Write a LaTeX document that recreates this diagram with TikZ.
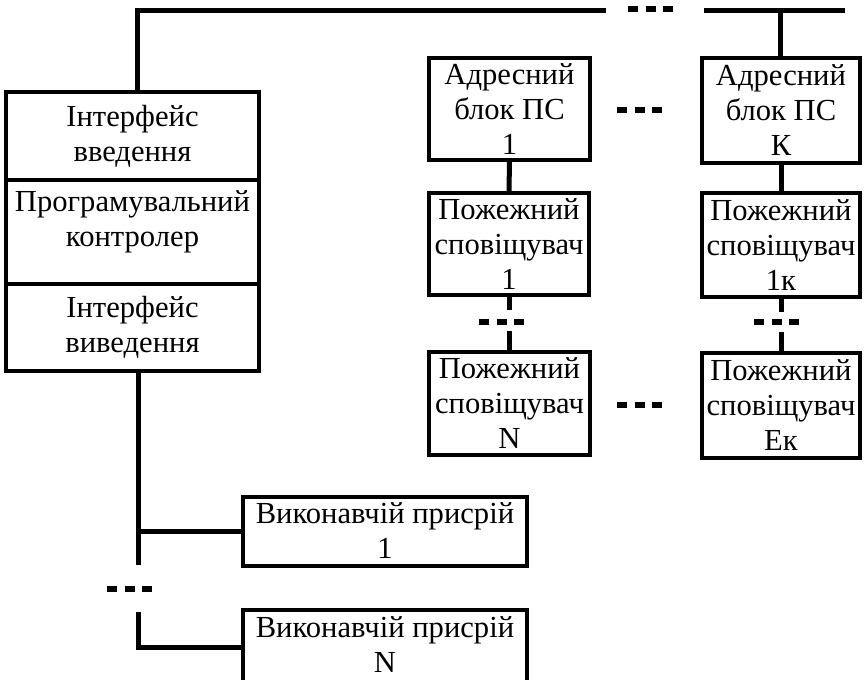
\documentclass[tikz,border=0pt]{standalone}
\usepackage{fontspec}
\setmainfont{Liberation Serif}
\usepackage{tikz}
\newcommand{\blkfont}{\fontsize{15.3}{17.5}\selectfont}

\begin{document}
\begin{tikzpicture}[x=0.5pt, y=-0.5pt,
    blk/.style={draw, line width=2pt, align=center, inner sep=0pt, font=\blkfont},
    wire/.style={line width=2.5pt},
    dots/.style={line width=2.6pt, dash pattern=on 5pt off 3.75pt}]
    \useasboundingbox (0,0) rectangle (864,680);

    % Controller
    \node[blk, minimum width=126.5pt, minimum height=44pt] (inp) at (132.5,136) {Інтерфейс\\введення};
    \node[blk, minimum width=126.5pt, minimum height=52pt] (ctrl) at (132.5,232) {Програмувальний\\контролер\\[-4pt]\mbox{}};
    \node[blk, minimum width=126.5pt, minimum height=43.5pt] (outp) at (132.5,327.5) {Інтерфейс\\виведення};

    % Addressable blocks and detectors
    \node[blk, minimum width=80.5pt, minimum height=51pt] (a1) at (509.5,109) {Адресний\\блок ПС\\1};
    \node[blk, minimum width=80pt, minimum height=51pt] (p1) at (509,244) {Пожежний\\сповіщувач\\1};
    \node[blk, minimum width=80.5pt, minimum height=51.5pt] (pN) at (509.5,403.5) {Пожежний\\сповіщувач\\N};
    \node[blk, minimum width=79pt, minimum height=52.5pt] (aK) at (781,110.5) {Адресний\\блок ПС\\К};
    \node[blk, minimum width=79pt, minimum height=52pt] (pK) at (781,245) {Пожежний\\сповіщувач\\1к};
    \node[blk, minimum width=79pt, minimum height=52.5pt] (pE) at (781,405.5) {Пожежний\\сповіщувач\\Ек};

    % Actuators
    \node[blk, minimum width=142pt, minimum height=34.5pt] (ex1) at (385,531) {Виконавчій присрій\\1};
    \node[blk, minimum width=142pt, minimum height=37.5pt] (exN) at (385,647.5) {Виконавчій присрій\\N\\[-14.5pt]\mbox{}};

    % Bus
    \coordinate (busL) at (137,10);
    \coordinate (busM) at (606,10);
    \coordinate (busR) at (704,10);
    \coordinate (busE) at (845,10);
    \draw[wire] (inp.north -| busL) -- (busL) -- (busM);
    \draw[dots] (628,9) -- (673,9);
    \draw[wire] (busR) -- (busE);
    \draw[wire] (aK.north -| 780,0) -- (780,10);

    % Detector chains
    \draw[wire] (a1.south) -- (p1.north);
    \draw[wire] (p1.south) -- ++(0,13);
    \draw[dots] (479,322) -- (524,322);
    \draw[wire] (pN.north) -- ++(0,-19);
    \draw[wire] (aK.south) -- (pK.north);
    \draw[wire] (pK.south) -- ++(0,13);
    \draw[dots] (754,322) -- (799,322);
    \draw[wire] (pE.north) -- ++(0,-19);
    \draw[dots] (617,110) -- (662,110);
    \draw[dots] (617,405) -- (662,405);

    % Output lines
    \coordinate (trunk) at (138,565);
    \draw[wire] (outp.south -| trunk) -- (trunk);
    \draw[wire] (ex1.west -| trunk) -- (ex1.west);
    \draw[dots] (107,589) -- (153,589);
    \draw[wire] (138,612) -- (exN.west -| trunk) -- (exN.west);
\end{tikzpicture}
\end{document}
